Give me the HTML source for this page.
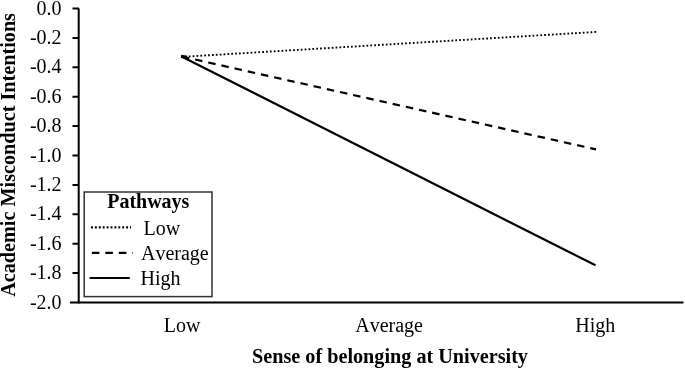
<!DOCTYPE html>
<html><head><meta charset="utf-8">
<style>
html,body{margin:0;padding:0;background:#fff;}
body{width:685px;height:369px;overflow:hidden;}
svg{display:block;will-change:transform;}
text{font-family:"Liberation Serif",serif;fill:#000;font-kerning:none;}
.b{font-weight:bold;}
</style></head><body>
<svg width="685" height="369" viewBox="0 0 685 369">
<rect width="685" height="369" fill="#fff"/>
<!-- y axis -->
<g stroke="#000" stroke-width="2" fill="none">
<line x1="78.7" y1="8.5" x2="78.7" y2="303.5"/>
<line x1="70" y1="302.5" x2="683.5" y2="302.5"/>
<path d="M72.5 8.5H79M72.5 37.9H79M72.5 67.3H79M72.5 96.7H79M72.5 126.1H79M72.5 155.5H79M72.5 184.9H79M72.5 214.3H79M72.5 243.7H79M72.5 273.1H79"/>
</g>
<g font-size="20" text-anchor="end" transform="translate(-0.4,-0.4)">
<text x="62" y="15">0.0</text>
<text x="62" y="44.4">-0.2</text>
<text x="62" y="73.8">-0.4</text>
<text x="62" y="103.2">-0.6</text>
<text x="62" y="132.6">-0.8</text>
<text x="62" y="162">-1.0</text>
<text x="62" y="191.4">-1.2</text>
<text x="62" y="220.8">-1.4</text>
<text x="62" y="250.2">-1.6</text>
<text x="62" y="279.6">-1.8</text>
<text x="62" y="309">-2.0</text>
</g>
<text class="b" font-size="20.2" text-anchor="middle" transform="translate(15.3,154.9) rotate(-90)">Academic Misconduct Intentions</text>
<g font-size="20" text-anchor="middle">
<text x="182.2" y="332.1">Low</text>
<text x="389.1" y="332.1">Average</text>
<text x="595.2" y="332.1">High</text>
</g>
<text class="b" font-size="20.2" text-anchor="middle" x="390" y="362.8">Sense of belonging at University</text>
<!-- data lines -->
<g fill="none" stroke="#000" stroke-width="2.2">
<line x1="181.5" y1="56.9" x2="596.3" y2="31.9" stroke-width="1.9" stroke-dasharray="1.75 2.12" stroke-dashoffset="0.45"/>
<line x1="181" y1="56.3" x2="187" y2="57.4" stroke-width="3.2"/>
<line x1="181.5" y1="56.5" x2="596" y2="149.4" stroke-dasharray="7.5 6.0" stroke-dashoffset="-0.4"/>
<line x1="181.5" y1="56.5" x2="595.5" y2="265.3"/>
</g>
<!-- legend -->
<rect x="84.2" y="192" width="127.8" height="104.6" fill="#fff" stroke="#333" stroke-width="1.5"/>
<text class="b" font-size="20" text-anchor="middle" x="148.3" y="207.8">Pathways</text>
<g fill="none" stroke="#000" stroke-width="2.2">
<line x1="91" y1="227.4" x2="131" y2="227.4" stroke-width="2.1" stroke-dasharray="1.95 1.95"/>
<line x1="91.8" y1="252.8" x2="132.8" y2="252.8" stroke-dasharray="7.6 5.9"/>
<line x1="89.6" y1="278" x2="129.8" y2="278"/>
</g>
<g font-size="20">
<text x="143.5" y="234.7">Low</text>
<text x="141" y="259.9">Average</text>
<text x="140.5" y="285.4">High</text>
</g>
</svg>
</body></html>
